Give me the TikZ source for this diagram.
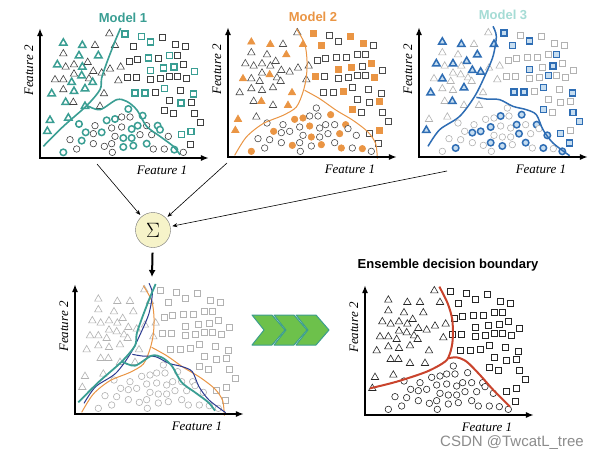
\documentclass[tikz,border=0pt]{standalone}
\usepackage{fontspec}
\setmainfont{Liberation Serif}
\setsansfont{Liberation Sans}
\usetikzlibrary{shapes.geometric,arrows.meta}

\definecolor{mteal}{HTML}{3A9E93}
\definecolor{morange}{HTML}{EA9544}
\definecolor{mblue}{HTML}{2E6DB4}
\definecolor{mbluefill}{HTML}{C6DDF0}
\definecolor{mnavy}{HTML}{2B3990}
\definecolor{mred}{HTML}{C9432C}
\definecolor{mtitle3}{HTML}{A5DCD5}
\definecolor{chevfill}{HTML}{6DC14B}
\definecolor{chevdraw}{HTML}{3C9D8E}
\definecolor{sumfill}{HTML}{F6F3C9}

\tikzset{
  mk/.style={inner sep=0pt, line width=0.6pt, fill=white},
  tri/.style={mk, regular polygon, regular polygon sides=3, minimum size=8.5pt},
  sqr/.style={mk, rectangle, minimum size=6pt},
  cir/.style={mk, circle, minimum size=6.5pt},
  base0/.style={draw=black!30},
  base1/.style={draw=black!75},
  base2/.style={draw=black!70},
  base3/.style={draw=black!30},
  base4/.style={draw=black!85},
  hl1/.style={draw=mteal, line width=1.5pt},
  hl2/.style={draw=morange, fill=morange},
  hl3/.style={draw=mblue, line width=1.5pt, fill=mbluefill},
  axis/.style={line width=1.6pt, {Latex[length=8pt,width=6pt]}-{Latex[length=8pt,width=6pt]}},
  feat/.style={font=\itshape\fontsize{13}{13}\selectfont},
  title/.style={font=\sffamily\bfseries\fontsize{13}{13}\selectfont},
  conn/.style={-{Stealth[length=5pt,width=4pt]}, line width=0.6pt},
  chev/.style={fill=chevfill, draw=chevdraw, line width=1pt, line join=round},
}

% data: u/v/flags (flags 1abc = highlighted in model 1, 2, 3)
\def\tridata{208/373/1000, 70/345/1111, 127/338/1111, 165/338/1000, 225/338/1011,
  70/313/1000, 117/307/1100, 175/307/1111, 143/287/1001, 52/280/1101, 77/273/1000,
  102/280/1001, 127/273/1100, 160/260/1001, 185/255/1001, 210/267/1000, 242/273/1000,
  102/252/1000, 125/247/1110, 147/238/1000, 45/235/1010, 70/235/1001, 95/227/1100,
  158/227/1100, 235/232/1000, 70/205/1000, 102/200/1100, 135/208/1101, 35/193/1101,
  192/193/1010, 77/167/1100, 100/167/1011, 135/155/1100, 180/155/1010, 30/113/1110,
  85/120/1100, 22/80/1111}
\def\sqrdata{305/365/1100, 332/348/1101, 280/335/1011, 405/340/1010, 437/335/1000,
  268/290/1000, 293/295/1000, 325/300/1100, 355/298/1000, 388/307/1100, 413/307/1001,
  332/263/1111, 370/270/1110, 402/273/1101, 430/280/1010, 463/260/1100, 290/243/1000,
  332/237/1000, 362/240/1000, 388/245/1001, 413/245/1000, 440/240/1010, 422/203/1000,
  285/195/1101, 315/195/1101, 345/198/1010, 373/208/1101, 460/192/1101, 388/173/1000,
  423/165/1100, 453/167/1010, 373/143/1011, 400/133/1000, 462/133/1001, 425/70/1101,
  453/80/1110, 262/243/1010, 255/372/1111, 368/362/1010, 482/106/1001, 452/42/1001}
\def\cirdata{265/147/1100, 225/117/1110, 245/123/1001, 270/123/1000, 308/127/1111,
  200/113/1110, 117/102/1100, 165/97/1000, 137/77/1110, 185/77/1101, 215/90/1001,
  245/93/1010, 275/87/1100, 293/97/1101, 320/97/1000, 353/97/1111, 90/55/1000,
  125/52/1100, 160/73/1001, 225/65/1000, 250/60/1110, 275/60/1100, 300/70/1001,
  335/70/1010, 360/85/1100, 385/65/1001, 110/27/1001, 160/43/1000, 193/35/1010,
  215/43/1001, 250/33/1101, 280/37/1110, 320/43/1101, 340/27/1010, 373/27/1001,
  403/25/1110, 430/17/1001, 70/17/1110, 217/17/1000}

\newcommand{\pickmark}[1]{%
  \def\mk{base#1}%
  \ifnum#1>0 \ifnum#1<4
    \pgfmathtruncatemacro{\hl}{mod(floor(\f/10^(3-#1)),10)}%
    \ifnum\hl=1 \def\mk{hl#1}\fi
  \fi\fi}

\newcommand{\plotmarks}[2]{%
  \foreach \u/\v/\f [count=\n] in \tridata {\pickmark{#1}\node[tri,\mk] (#2t\n) at (\u,\v) {};}
  \foreach \u/\v/\f [count=\n] in \sqrdata {\pickmark{#1}\node[sqr,\mk] (#2s\n) at (\u,\v) {};}
  \foreach \u/\v/\f [count=\n] in \cirdata {\pickmark{#1}\node[cir,\mk] (#2c\n) at (\u,\v) {};}
}

\newcommand{\plotaxes}[1]{%
  \draw[axis] (0,390) -- (0,0) -- (507,0);
  \node[feat] (#1f1) at (366,-38) {Feature 1};
  \node[feat, rotate=90] (#1f2) at (-33,262) {Feature 2};
}

% decision boundaries of the three models
\newcommand{\bndA}[1]{%
  \draw[#1] plot[smooth] coordinates {(10,35) (70,95) (140,157) (180,205) (185,240) (200,285) (225,350) (242,390)};
  \draw[#1] plot[smooth] coordinates {(142,157) (180,145) (230,175) (260,170) (290,145) (320,95) (360,65) (400,35) (420,10)};
}
\newcommand{\bndB}[1]{%
  \draw[#1] plot[smooth] coordinates {(20,5) (55,60) (105,100) (165,125) (205,150) (225,195) (235,240) (237,290) (230,340) (205,385)};
  \draw[#1] plot[smooth] coordinates {(230,200) (275,175) (325,140) (375,110) (420,75) (443,40) (448,-5)};
}
\newcommand{\bndC}[1]{%
  \draw[#1] plot[smooth] coordinates {(27,32) (62,82) (122,122) (167,182) (197,242) (222,302) (232,362) (222,392)};
  \draw[#1] plot[smooth] coordinates {(172,179) (202,174) (242,172) (282,152) (322,142) (352,127) (372,82) (402,42) (452,4)};
}

\begin{document}
\begin{tikzpicture}[x=1pt, y=-1pt]
  \fill[white] (0,0) rectangle (602,460);
  \useasboundingbox (0,0) rectangle (602,460);

  % model 1
  \begin{scope}[shift={(40,158)}, x=0.3333pt, y=0.3333pt]
    \plotmarks{1}{a}
    \bndA{mteal, line width=1.6pt}
    \plotaxes{a}
  \end{scope}
  \node[title, text=mteal] (t1) at (123,18) {Model 1};

  % model 2
  \begin{scope}[shift={(228,157)}, x=0.3333pt, y=0.3333pt]
    \plotmarks{2}{b}
    \bndB{morange, line width=1pt}
    \plotaxes{b}
  \end{scope}
  \node[title, text=morange] (t2) at (313,17) {Model 2};

  % model 3
  \begin{scope}[shift={(419,157)}, x=0.3333pt, y=0.3333pt]
    \plotmarks{3}{c}
    \bndC{mblue, line width=1.5pt}
    \plotaxes{c}
  \end{scope}
  \node[title, text=mtitle3] (t3) at (503,15) {Model 3};

  % combining
  \node[circle, draw=black!55, fill=sumfill, minimum size=35pt, inner sep=0pt,
    font=\fontsize{20}{20}\selectfont] (sum) at (153,230) {$\Sigma$};
  \coordinate (m1out) at (97,164);
  \coordinate (m2out) at (227,163);
  \coordinate (m3out) at (447,171);
  \coordinate (p4in) at (152,277);
  \draw[conn, shorten >=2pt] (m1out) -- (sum);
  \draw[conn, shorten >=2pt] (m2out) -- (sum);
  \draw[conn, shorten >=2pt] (m3out) -- (sum);
  \draw[-{Latex[length=7pt,width=7pt]}, line width=2pt, shorten <=5pt] (sum) -- (p4in);

  % all boundaries together
  \begin{scope}[shift={(75,414)}, x=0.3333pt, y=0.3333pt]
    \plotmarks{0}{d}
    \bndB{morange, line width=1pt}
    \bndC{mnavy, line width=1pt}
    \bndA{mteal, line width=1.8pt}
    \plotaxes{d}
  \end{scope}

  % chevrons
  \foreach \x in {252,274,296}
    \draw[chev] (\x,315) -- (\x+20,315) -- (\x+33,330) -- (\x+20,345) -- (\x,345) -- (\x+12,330) -- cycle;

  % ensemble
  \begin{scope}[shift={(365,415)}, x=0.3333pt, y=0.3333pt]
    \plotmarks{4}{e}
    \draw[mred, line width=2pt] plot[smooth] coordinates {(15,80) (95,100) (185,130) (240,160) (255,185) (263,225) (262,285) (248,335) (223,385)};
    \draw[mred, line width=2pt] plot[smooth] coordinates {(250,170) (275,173) (305,160) (345,120) (385,75) (435,25)};
    \plotaxes{e}
  \end{scope}
  \node[title] (ens) at (448,265) {Ensemble decision boundary};
  \node[font=\sffamily\fontsize{15}{15}\selectfont, text=black!45] (wm) at (512,443) {CSDN @TwcatL\_tree};
\end{tikzpicture}
\end{document}
